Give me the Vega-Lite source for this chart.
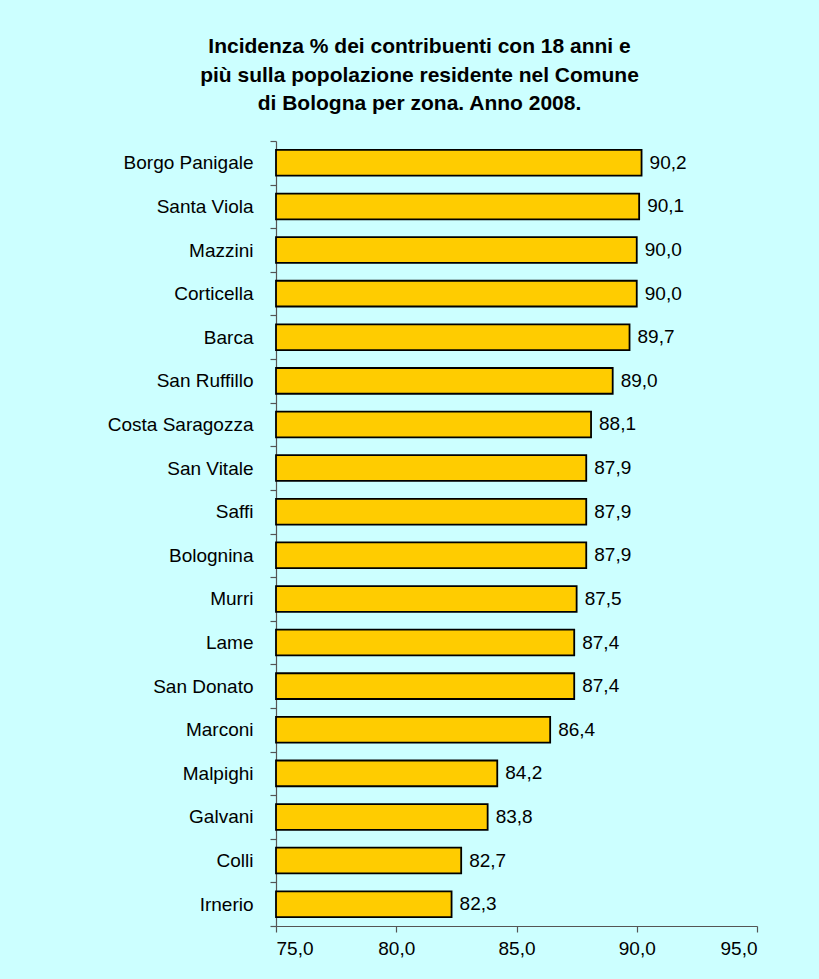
{
  "$schema": "https://vega.github.io/schema/vega-lite/v6.json",
  "autosize": {"type": "none"},
  "width": 481,
  "height": 785,
  "padding": {"left": 276, "top": 141, "right": 62, "bottom": 53},
  "background": "#CCFFFF",
  "title": {
    "text": ["Incidenza % dei contribuenti con 18 anni e", "più sulla popolazione residente nel Comune", "di Bologna per zona. Anno 2008."],
    "font": "Liberation Sans",
    "fontSize": 21,
    "fontWeight": "bold",
    "color": "#000000",
    "lineHeight": 28.5,
    "anchor": "middle",
    "frame": "group",
    "dx": -97,
    "offset": 18
  },
  "data": {
    "values": [
      {"zona": "Borgo Panigale", "valore": 90.2},
      {"zona": "Santa Viola", "valore": 90.1},
      {"zona": "Mazzini", "valore": 90.0},
      {"zona": "Corticella", "valore": 90.0},
      {"zona": "Barca", "valore": 89.7},
      {"zona": "San Ruffillo", "valore": 89.0},
      {"zona": "Costa Saragozza", "valore": 88.1},
      {"zona": "San Vitale", "valore": 87.9},
      {"zona": "Saffi", "valore": 87.9},
      {"zona": "Bolognina", "valore": 87.9},
      {"zona": "Murri", "valore": 87.5},
      {"zona": "Lame", "valore": 87.4},
      {"zona": "San Donato", "valore": 87.4},
      {"zona": "Marconi", "valore": 86.4},
      {"zona": "Malpighi", "valore": 84.2},
      {"zona": "Galvani", "valore": 83.8},
      {"zona": "Colli", "valore": 82.7},
      {"zona": "Irnerio", "valore": 82.3}
    ]
  },
  "transform": [
    {"calculate": "replace(format(datum.valore, '.1f'), '.', ',')", "as": "etichetta"}
  ],
  "encoding": {
    "y": {
      "field": "zona",
      "type": "nominal",
      "sort": null,
      "scale": {"paddingInner": 0, "paddingOuter": 0},
      "axis": {
        "title": null,
        "tickBand": "extent",
        "tickSize": 6,
        "labelPadding": 17,
        "labelFont": "Liberation Sans",
        "labelFontSize": 19,
        "labelColor": "#000000",
        "domainColor": "#555555",
        "tickColor": "#555555",
        "domainWidth": 1.2,
        "tickWidth": 1.2
      }
    }
  },
  "layer": [
    {
      "mark": {"type": "bar", "color": "#FFCC00", "stroke": "#000000", "strokeWidth": 1.8, "height": {"band": 0.59}},
      "encoding": {
        "x": {
          "field": "valore",
          "type": "quantitative",
          "scale": {"domain": [75, 95], "zero": false, "nice": false},
          "axis": {
            "title": null,
            "values": [75, 80, 85, 90, 95],
            "labelExpr": "replace(format(datum.value, '.1f'), '.', ',')",
            "grid": false,
            "tickSize": 6,
            "labelPadding": 7,
            "labelFont": "Liberation Sans",
            "labelFontSize": 19,
            "labelColor": "#000000",
            "domainColor": "#555555",
            "tickColor": "#555555",
            "domainWidth": 1.2,
            "tickWidth": 1.2
          }
        },
        "x2": {"datum": 75}
      }
    },
    {
      "mark": {"type": "text", "align": "left", "baseline": "middle", "dx": 8, "font": "Liberation Sans", "fontSize": 19, "color": "#000000"},
      "encoding": {
        "x": {"field": "valore", "type": "quantitative"},
        "text": {"field": "etichetta", "type": "nominal"}
      }
    }
  ],
  "config": {
    "view": {"stroke": null}
  }
}
